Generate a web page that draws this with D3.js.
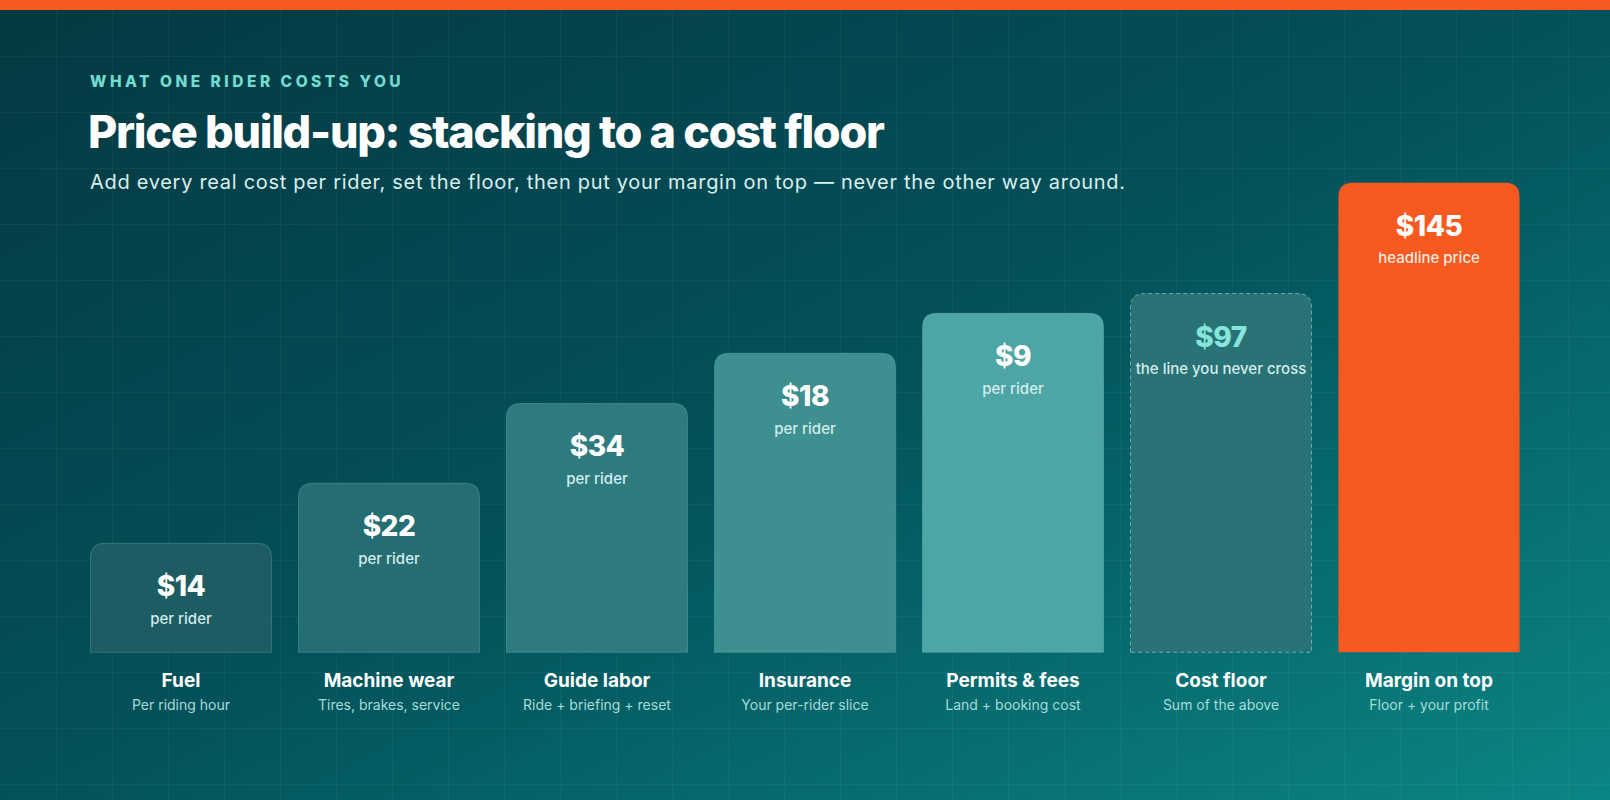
<!DOCTYPE html>
<html>
<head>
<meta charset="utf-8">
<script src="https://cdn.jsdelivr.net/npm/d3@7"></script>
<style>
  body { margin: 0; background: #053f48; }
  svg { display: block; font-family: Inter, "Noto Sans", sans-serif; }
</style>
</head>
<body>
<script>
const w = 1610;
const h = 800;

// chart data
const categories = ["Fuel", "Machine wear", "Guide labor", "Insurance", "Permits & fees", "Cost floor", "Margin on top"];
const subLabels = ["Per riding hour", "Tires, brakes, service", "Ride + briefing + reset", "Your per-rider slice", "Land + booking cost", "Sum of the above", "Floor + your profit"];
const values = [14, 22, 34, 18, 9, 97, 145];
const notes = ["per rider", "per rider", "per rider", "per rider", "per rider", "the line you never cross", "headline price"];
// drawn bar height, % of the headline bar
const barLevel = [23.2, 36.0, 53.0, 63.7, 72.2, 76.4, 100];
const barFill = ["#1c5c62", "#246d72", "#2e7b7f", "#3d8f90", "#4ea5a5", "#297275", "#f75a20"];

const svg = d3.select("body").append("svg")
  .attr("width", w)
  .attr("height", h);

const defs = svg.append("defs");
const bg = defs.append("linearGradient")
  .attr("id", "bg")
  .attr("x1", "0").attr("y1", "0")
  .attr("x2", "1").attr("y2", "1");
bg.append("stop").attr("offset", "0").attr("stop-color", "#053841");
bg.append("stop").attr("offset", "0.5").attr("stop-color", "#03515a");
bg.append("stop").attr("offset", "1").attr("stop-color", "#0b8585");

svg.append("rect")
  .attr("width", w)
  .attr("height", h)
  .attr("fill", "url(#bg)");

// faint grid
const grid = svg.append("g").attr("stroke", "rgba(255,255,255,0.045)").attr("stroke-width", 1);
grid.selectAll("line.v")
  .data(d3.range(56, w, 56))
  .enter().append("line")
  .attr("x1", d => d + 0.5).attr("x2", d => d + 0.5)
  .attr("y1", 0).attr("y2", h);
grid.selectAll("line.h")
  .data(d3.range(56, h, 56))
  .enter().append("line")
  .attr("y1", d => d + 0.5).attr("y2", d => d + 0.5)
  .attr("x1", 0).attr("x2", w);

// top accent
svg.append("rect")
  .attr("width", w)
  .attr("height", 10)
  .attr("fill", "#f75a20");

// headings
svg.append("text")
  .attr("x", 90)
  .attr("y", 87)
  .attr("fill", "#72dcd3")
  .style("font-size", "15.5px")
  .style("font-weight", 800)
  .style("letter-spacing", "3.5px")
  .text("WHAT ONE RIDER COSTS YOU");

svg.append("text")
  .attr("x", 88)
  .attr("y", 148)
  .attr("fill", "#ffffff")
  .style("font-size", "45px")
  .style("font-weight", 800)
  .style("letter-spacing", "-1.3px")
  .text("Price build-up: stacking to a cost floor");

svg.append("text")
  .attr("x", 90)
  .attr("y", 189)
  .attr("fill", "#d9efee")
  .style("font-size", "20px")
  .style("font-weight", 400)
  .style("letter-spacing", "0.7px")
  .text("Add every real cost per rider, set the floor, then put your margin on top \u2014 never the other way around.");

// scales
const xScale = d3.scaleBand()
  .domain(categories)
  .range([90.5, 1519.5])
  .paddingInner(0.13)
  .paddingOuter(0);

const yScale = d3.scaleLinear()
  .domain([0, 100])
  .range([652.3, 182.7]);

// bar with rounded top corners
function topRounded(x, y, bw, bh, r) {
  return "M" + x + "," + (y + bh) +
    "V" + (y + r) +
    "Q" + x + "," + y + " " + (x + r) + "," + y +
    "H" + (x + bw - r) +
    "Q" + (x + bw) + "," + y + " " + (x + bw) + "," + (y + r) +
    "V" + (y + bh) + "Z";
}

const bars = svg.selectAll("g.bar")
  .data(categories)
  .enter().append("g")
  .attr("class", "bar");

bars.append("path")
  .attr("d", (d, i) => topRounded(xScale(d), yScale(barLevel[i]), xScale.bandwidth(), yScale(0) - yScale(barLevel[i]), 14))
  .attr("fill", (d, i) => barFill[i])
  .attr("stroke", (d, i) => i === 6 ? "none" : i === 5 ? "rgba(170,235,228,0.55)" : "rgba(190,240,235,0.22)")
  .attr("stroke-width", 1)
  .attr("stroke-dasharray", (d, i) => i === 5 ? "4 3" : null);

// value labels
bars.append("text")
  .attr("x", d => xScale(d) + xScale.bandwidth() / 2)
  .attr("y", (d, i) => yScale(barLevel[i]) + 53)
  .attr("text-anchor", "middle")
  .attr("fill", (d, i) => i === 5 ? "#86e6dc" : "#ffffff")
  .style("font-size", "28px")
  .style("font-weight", 800)
  .style("letter-spacing", "-0.5px")
  .text((d, i) => "$" + values[i]);

bars.append("text")
  .attr("x", d => xScale(d) + xScale.bandwidth() / 2)
  .attr("y", (d, i) => yScale(barLevel[i]) + 80.5)
  .attr("text-anchor", "middle")
  .attr("fill", (d, i) => i === 6 ? "rgba(255,255,255,0.88)" : "#d3ecec")
  .style("font-size", "15px")
  .style("font-weight", 500)
  .text((d, i) => notes[i]);

// category labels under the baseline
bars.append("text")
  .attr("x", d => xScale(d) + xScale.bandwidth() / 2)
  .attr("y", 687)
  .attr("text-anchor", "middle")
  .attr("fill", "#ffffff")
  .style("font-size", "19px")
  .style("font-weight", 700)
  .text(d => d);

bars.append("text")
  .attr("x", d => xScale(d) + xScale.bandwidth() / 2)
  .attr("y", 710)
  .attr("text-anchor", "middle")
  .attr("fill", "#a6dcd8")
  .style("font-size", "14px")
  .style("font-weight", 400)
  .text((d, i) => subLabels[i]);
</script>
</body>
</html>
